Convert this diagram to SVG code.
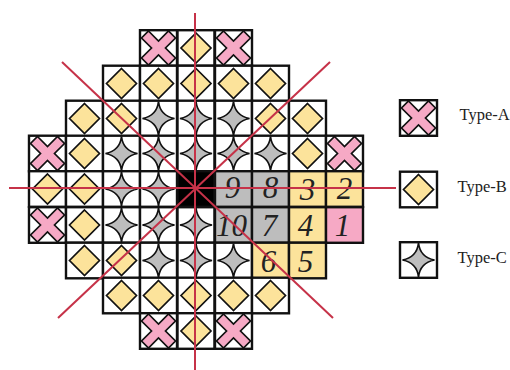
<svg xmlns="http://www.w3.org/2000/svg" width="510" height="370" viewBox="0 0 510 370">
<style>
.cell{stroke:#111;stroke-width:2.4}
.o{stroke:#111;stroke-width:1.7;stroke-linejoin:miter}
.a{fill:#f6a9c5}.b{fill:#fce39b}.c{fill:#bdbdbd}
.num{font-family:"Liberation Serif","Times New Roman",serif;font-style:italic;font-size:31px;fill:#222;text-anchor:middle}
.lab{font-family:"Liberation Serif","Times New Roman",serif;font-size:16.5px;fill:#222}
.red{stroke:#c63248;stroke-width:2;fill:none}
</style>
<defs>
<rect id="r" class="cell" x="-18.5" y="-17.8" width="37" height="35.6"/>
<polygon id="A" class="o a" points="-10,-17 0,-7 10,-17 17,-10 7,0 17,10 10,17 0,7 -10,17 -17,10 -7,0 -17,-10"/>
<polygon id="B" class="o b" points="0,-15 15,0 0,15 -15,0"/>
<path id="C" class="o c" d="M0,-17C1,-8 6,-2 16,0C6,2 1,8 0,17C-1,8 -6,2 -16,0C-6,-2 -1,-8 0,-17Z"/>
</defs>
<g id="grid" fill="#fff">
<g id="n0-3" transform="translate(158.5,48)"><use href="#r"/><use href="#A"/></g>
<g id="n0-4" transform="translate(196,48)"><use href="#r"/><use href="#B"/></g>
<g id="n0-5" transform="translate(233.5,48)"><use href="#r"/><use href="#A"/></g>
<g id="n1-2" transform="translate(121.5,83.5)"><use href="#r"/><use href="#B"/></g>
<g id="n1-3" transform="translate(158.5,83.5)"><use href="#r"/><use href="#B"/></g>
<g id="n1-4" transform="translate(196,83.5)"><use href="#r"/><use href="#B"/></g>
<g id="n1-5" transform="translate(233.5,83.5)"><use href="#r"/><use href="#B"/></g>
<g id="n1-6" transform="translate(270.5,83.5)"><use href="#r"/><use href="#B"/></g>
<g id="n2-1" transform="translate(84.5,118.5)"><use href="#r"/><use href="#B"/></g>
<g id="n2-2" transform="translate(121.5,118.5)"><use href="#r"/><use href="#B"/></g>
<g id="n2-3" transform="translate(158.5,118.5)"><use href="#r"/><use href="#C"/></g>
<g id="n2-4" transform="translate(196,118.5)"><use href="#r"/><use href="#C"/></g>
<g id="n2-5" transform="translate(233.5,118.5)"><use href="#r"/><use href="#C"/></g>
<g id="n2-6" transform="translate(270.5,118.5)"><use href="#r"/><use href="#B"/></g>
<g id="n2-7" transform="translate(307.5,118.5)"><use href="#r"/><use href="#B"/></g>
<g id="n3-0" transform="translate(47.5,153.5)"><use href="#r"/><use href="#A"/></g>
<g id="n3-1" transform="translate(84.5,153.5)"><use href="#r"/><use href="#B"/></g>
<g id="n3-2" transform="translate(121.5,153.5)"><use href="#r"/><use href="#C"/></g>
<g id="n3-3" transform="translate(158.5,153.5)"><use href="#r"/><use href="#C"/></g>
<g id="n3-4" transform="translate(196,153.5)"><use href="#r"/><use href="#C"/></g>
<g id="n3-5" transform="translate(233.5,153.5)"><use href="#r"/><use href="#C"/></g>
<g id="n3-6" transform="translate(270.5,153.5)"><use href="#r"/><use href="#C"/></g>
<g id="n3-7" transform="translate(307.5,153.5)"><use href="#r"/><use href="#B"/></g>
<g id="n3-8" transform="translate(344.5,153.5)"><use href="#r"/><use href="#A"/></g>
<g id="n4-0" transform="translate(47.5,189)"><use href="#r"/><use href="#B"/></g>
<g id="n4-1" transform="translate(84.5,189)"><use href="#r"/><use href="#B"/></g>
<g id="n4-2" transform="translate(121.5,189)"><use href="#r"/><use href="#C"/></g>
<g id="n4-3" transform="translate(158.5,189)"><use href="#r"/><use href="#C"/></g>
<g id="n4-4" transform="translate(196,189)"><use href="#r" fill="#000"/></g>
<g id="n4-5" transform="translate(233.5,189)"><use href="#r" fill="#bdbdbd"/><text class="num" x="-1" y="9">9</text></g>
<g id="n4-6" transform="translate(270.5,189)"><use href="#r" fill="#bdbdbd"/><text class="num" x="0" y="9">8</text></g>
<g id="n4-7" transform="translate(307.5,189)"><use href="#r" fill="#fce39b"/><text class="num" x="0" y="11">3</text></g>
<g id="n4-8" transform="translate(344.5,189)"><use href="#r" fill="#fce39b"/><text class="num" x="0" y="10">2</text></g>
<g id="n5-0" transform="translate(47.5,225)"><use href="#r"/><use href="#A"/></g>
<g id="n5-1" transform="translate(84.5,225)"><use href="#r"/><use href="#B"/></g>
<g id="n5-2" transform="translate(121.5,225)"><use href="#r"/><use href="#C"/></g>
<g id="n5-3" transform="translate(158.5,225)"><use href="#r"/><use href="#C"/></g>
<g id="n5-4" transform="translate(196,225)"><use href="#r"/><use href="#C"/></g>
<g id="n5-5" transform="translate(233.5,225)"><use href="#r" fill="#bdbdbd"/><text class="num" x="-2" y="11">10</text></g>
<g id="n5-6" transform="translate(270.5,225)"><use href="#r" fill="#bdbdbd"/><text class="num" x="-1" y="11">7</text></g>
<g id="n5-7" transform="translate(307.5,225)"><use href="#r" fill="#fce39b"/><text class="num" x="-2" y="11">4</text></g>
<g id="n5-8" transform="translate(344.5,225)"><use href="#r" fill="#f6a9c5"/><text class="num" x="-2" y="11">1</text></g>
<g id="n6-1" transform="translate(84.5,260.5)"><use href="#r"/><use href="#B"/></g>
<g id="n6-2" transform="translate(121.5,260.5)"><use href="#r"/><use href="#B"/></g>
<g id="n6-3" transform="translate(158.5,260.5)"><use href="#r"/><use href="#C"/></g>
<g id="n6-4" transform="translate(196,260.5)"><use href="#r"/><use href="#C"/></g>
<g id="n6-5" transform="translate(233.5,260.5)"><use href="#r"/><use href="#C"/></g>
<g id="n6-6" transform="translate(270.5,260.5)"><use href="#r" fill="#fce39b"/><text class="num" x="-2" y="11">6</text></g>
<g id="n6-7" transform="translate(307.5,260.5)"><use href="#r" fill="#fce39b"/><text class="num" x="-2" y="11">5</text></g>
<g id="n7-2" transform="translate(121.5,295.5)"><use href="#r"/><use href="#B"/></g>
<g id="n7-3" transform="translate(158.5,295.5)"><use href="#r"/><use href="#B"/></g>
<g id="n7-4" transform="translate(196,295.5)"><use href="#r"/><use href="#B"/></g>
<g id="n7-5" transform="translate(233.5,295.5)"><use href="#r"/><use href="#B"/></g>
<g id="n7-6" transform="translate(270.5,295.5)"><use href="#r"/><use href="#B"/></g>
<g id="n8-3" transform="translate(158.5,331)"><use href="#r"/><use href="#A"/></g>
<g id="n8-4" transform="translate(196,331)"><use href="#r"/><use href="#B"/></g>
<g id="n8-5" transform="translate(233.5,331)"><use href="#r"/><use href="#A"/></g>
</g>
<g id="connectors">
<line class="red" x1="195" y1="13" x2="195" y2="370"/>
<line class="red" x1="9" y1="188" x2="396" y2="188"/>
<line class="red" x1="62" y1="62" x2="333" y2="318"/>
<line class="red" x1="58" y1="318" x2="330" y2="62"/>
</g>
<g id="legend-a" transform="translate(418.5,118)" fill="#fff"><use href="#r"/><use href="#A"/><text class="lab" x="41" y="2">Type-A</text></g>
<g id="legend-b" transform="translate(418.5,189.5)" fill="#fff"><use href="#r"/><use href="#B"/><text class="lab" x="39" y="2.5">Type-B</text></g>
<g id="legend-c" transform="translate(418.5,260)" fill="#fff"><use href="#r"/><use href="#C"/><text class="lab" x="39" y="3">Type-C</text></g>
</svg>
